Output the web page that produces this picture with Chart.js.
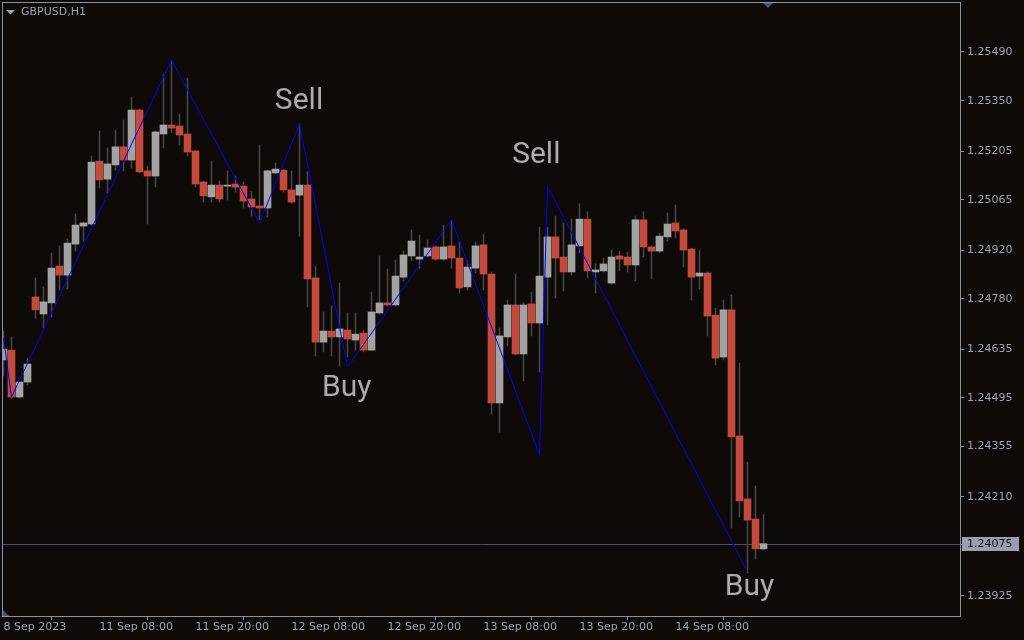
<!DOCTYPE html>
<html><head><meta charset="utf-8">
<script src="https://cdn.jsdelivr.net/npm/chart.js@4.4.0/dist/chart.umd.min.js"></script>
<style>html,body{margin:0;padding:0;background:#0d0a08;overflow:hidden}canvas{display:block}</style>
</head><body>
<canvas id="c" width="1024" height="640"></canvas>
<script>
const symbolTitle = 'GBPUSD,H1';
const openPrices = [1.24604,1.24632,1.24497,1.24540,1.24785,1.24736,1.24768,1.24874,1.24848,1.24937,1.24989,1.24995,1.25176,1.25124,1.25165,1.25217,1.25179,1.25323,1.25148,1.25133,1.25254,1.25280,1.25277,1.25254,1.25205,1.25116,1.25073,1.25107,1.25104,1.25110,1.25104,1.25067,1.25047,1.25041,1.25142,1.25150,1.25093,1.25078,1.25107,1.24840,1.24655,1.24687,1.24670,1.24690,1.24661,1.24681,1.24632,1.24739,1.24768,1.24762,1.24842,1.24903,1.24894,1.24903,1.24929,1.24894,1.24932,1.24897,1.24814,1.24868,1.24935,1.24851,1.24480,1.24670,1.24762,1.24621,1.24765,1.24710,1.24842,1.24958,1.24900,1.24857,1.24932,1.25009,1.24857,1.24860,1.24825,1.24903,1.24900,1.24877,1.25007,1.24929,1.24917,1.24958,1.24998,1.24978,1.24923,1.24845,1.24854,1.24733,1.24612,1.24748,1.24385,1.24204,1.24146,1.24060];
const highPrices = [1.24687,1.24670,1.24540,1.24609,1.24840,1.24814,1.24912,1.24932,1.24952,1.25024,1.25001,1.25191,1.25263,1.25214,1.25266,1.25294,1.25360,1.25326,1.25162,1.25263,1.25424,1.25467,1.25312,1.25415,1.25208,1.25119,1.25176,1.25119,1.25148,1.25133,1.25116,1.25090,1.25222,1.25150,1.25171,1.25153,1.25148,1.25283,1.25145,1.24874,1.24742,1.24759,1.24825,1.24739,1.24739,1.24690,1.24799,1.24903,1.24866,1.24891,1.24917,1.24978,1.24963,1.24949,1.24932,1.24992,1.25007,1.24943,1.24889,1.24943,1.24966,1.24857,1.24696,1.24776,1.24851,1.24768,1.24799,1.24986,1.24986,1.25018,1.24998,1.25009,1.25053,1.25030,1.24880,1.24897,1.24920,1.24917,1.24914,1.25018,1.25030,1.24932,1.24969,1.25027,1.25050,1.24981,1.24926,1.24920,1.24857,1.24753,1.24776,1.24791,1.24595,1.24310,1.24241,1.24160];
const lowPrices = [1.24558,1.24494,1.24494,1.24532,1.24724,1.24696,1.24727,1.24805,1.24808,1.24917,1.24946,1.24992,1.25099,1.25084,1.25150,1.25148,1.25156,1.25142,1.24995,1.25101,1.25214,1.25257,1.25222,1.25191,1.25101,1.25058,1.25058,1.25058,1.25064,1.25087,1.25041,1.25018,1.25007,1.25015,1.25139,1.25087,1.25055,1.24960,1.24756,1.24615,1.24627,1.24615,1.24586,1.24612,1.24632,1.24627,1.24630,1.24736,1.24759,1.24759,1.24831,1.24889,1.24868,1.24900,1.24891,1.24891,1.24868,1.24796,1.24805,1.24854,1.24805,1.24448,1.24396,1.24644,1.24618,1.24543,1.24673,1.24569,1.24704,1.24782,1.24802,1.24848,1.24912,1.24840,1.24796,1.24857,1.24822,1.24860,1.24857,1.24831,1.24900,1.24837,1.24912,1.24946,1.24955,1.24871,1.24776,1.24808,1.24673,1.24589,1.24604,1.24120,1.24152,1.23991,1.24031,1.24057];
const closePrices = [1.24635,1.24497,1.24540,1.24592,1.24748,1.24771,1.24868,1.24848,1.24940,1.24992,1.24998,1.25173,1.25122,1.25168,1.25217,1.25179,1.25323,1.25145,1.25133,1.25260,1.25280,1.25271,1.25251,1.25202,1.25110,1.25076,1.25107,1.25067,1.25107,1.25101,1.25061,1.25044,1.25041,1.25148,1.25153,1.25093,1.25058,1.25107,1.24837,1.24655,1.24687,1.24670,1.24693,1.24664,1.24678,1.24632,1.24742,1.24768,1.24762,1.24845,1.24906,1.24946,1.24900,1.24926,1.24894,1.24929,1.24897,1.24811,1.24871,1.24932,1.24851,1.24480,1.24673,1.24762,1.24621,1.24762,1.24710,1.24845,1.24958,1.24897,1.24857,1.24935,1.25009,1.24860,1.24863,1.24880,1.24900,1.24894,1.24877,1.25007,1.24929,1.24917,1.24960,1.24995,1.24975,1.24920,1.24842,1.24854,1.24730,1.24609,1.24748,1.24382,1.24198,1.24143,1.24060,1.24075];
const timeTickIndex = [0,12,24,36,48,60,72,84];
const timeTickLabels = ['8 Sep 2023','11 Sep 08:00','11 Sep 20:00','12 Sep 08:00','12 Sep 20:00','13 Sep 08:00','13 Sep 20:00','14 Sep 08:00'];
const priceTicks = [1.25490,1.25350,1.25205,1.25065,1.24920,1.24780,1.24635,1.24495,1.24355,1.24210,1.23925];
const zigzagIndex = [0,1,21,32,37,43,56,67,68,93];
const zigzagPrice = [1.24667,1.24497,1.25467,1.24998,1.25283,1.24583,1.25007,1.24330,1.25104,1.23994];
const signalText = ['Sell','Sell','Buy','Buy'];
const signalIndex = [36.94,66.6,42.9,93.25];
const signalPrice = [1.25326,1.25171,1.24500,1.23927];
const lastPrice = 1.24075;

const BG='#0d0a08', BULL='#a3a3a3', BEAR='#c44b3b', WICK='#454545', FRAME='#8c90a4', TXT='#9ea4b6', SIGNAL='#ababab', PRICE_LINE='#474c82';
const FONT='"DejaVu Sans", Tahoma, sans-serif';

const idx = openPrices.map((_, i) => i);
const bodies = idx.map(i => ({x: i, y: [openPrices[i], closePrices[i]]}));
const wicks = idx.map(i => ({x: i, y: [lowPrices[i], highPrices[i]]}));
const bodyColors = idx.map(i => closePrices[i] >= openPrices[i] ? BULL : BEAR);
const zigzag = zigzagIndex.map((v, k) => ({x: v, y: zigzagPrice[k]}));

const zeroPad = s => { s.paddingTop = 0; s.paddingBottom = 0; s.paddingLeft = 0; s.paddingRight = 0; };

const overlay = {
  id: 'overlay',
  beforeDraw(chart) {
    const c = chart.ctx;
    c.save(); c.fillStyle = BG; c.fillRect(0, 0, chart.width, chart.height); c.restore();
  },
  beforeDatasetsDraw(chart) {
    const c = chart.ctx, a = chart.chartArea, y = chart.scales.y;
    const py = Math.round(y.getPixelForValue(lastPrice)) + 0.5;
    c.save(); c.strokeStyle = PRICE_LINE; c.lineWidth = 1;
    c.beginPath(); c.moveTo(a.left, py); c.lineTo(a.right, py); c.stroke(); c.restore();
  },
  afterDatasetsDraw(chart) {
    const c = chart.ctx, x = chart.scales.x, y = chart.scales.y;
    c.save();
    c.font = '30px Roboto';
    c.fillStyle = SIGNAL; c.textAlign = 'center'; c.textBaseline = 'alphabetic';
    signalText.forEach((t, k) => c.fillText(t, x.getPixelForValue(signalIndex[k]), y.getPixelForValue(signalPrice[k])));
    c.restore();
  },
  afterDraw(chart) {
    const c = chart.ctx, a = chart.chartArea, y = chart.scales.y;
    c.save();
    c.strokeStyle = FRAME; c.lineWidth = 1;
    c.strokeRect(2.5, 2.5, a.right - 2, a.bottom - 2);
    c.fillStyle = TXT;
    c.beginPath(); c.moveTo(6, 10); c.lineTo(15, 10); c.lineTo(10.5, 14.5); c.closePath(); c.fill();
    c.font = '11px ' + FONT; c.textAlign = 'left'; c.textBaseline = 'middle';
    c.fillText(symbolTitle, 21, 12);
    c.fillStyle = '#4b5080';
    c.beginPath(); c.moveTo(763, 3); c.lineTo(773, 3); c.lineTo(768, 8); c.closePath(); c.fill();
    c.beginPath(); c.moveTo(3, 610); c.lineTo(3, 616); c.lineTo(9, 616); c.closePath(); c.fill();
    const py = Math.round(y.getPixelForValue(lastPrice));
    c.strokeStyle = FRAME;
    c.beginPath(); c.moveTo(a.right, py + 0.5); c.lineTo(a.right + 4, py + 0.5); c.stroke();
    c.fillStyle = '#9a9eae'; c.fillRect(962, py - 7, 57, 14);
    c.fillStyle = BG; c.font = '11px ' + FONT; c.textBaseline = 'middle';
    c.fillText(lastPrice.toFixed(5), 967, py + 0.5);
    c.restore();
  }
};

new Chart(document.getElementById('c'), {
  type: 'bar',
  data: { datasets: [
    { type: 'line', data: zigzag, borderColor: '#0000ff', borderWidth: 1, pointRadius: 0, tension: 0, fill: false, order: 0 },
    { data: bodies, backgroundColor: bodyColors, barThickness: 7, grouped: false, minBarLength: 1, borderWidth: 0, order: 1 },
    { data: wicks, backgroundColor: WICK, barThickness: 1, grouped: false, borderWidth: 0, order: 2 }
  ]},
  options: {
    responsive: false, animation: false, devicePixelRatio: 1,
    layout: { padding: { left: 3, top: 3, right: 0, bottom: 0 }, autoPadding: false },
    plugins: { legend: { display: false }, tooltip: { enabled: false }, title: { display: false } },
    scales: {
      x: {
        type: 'linear', min: -0.0625, max: 119.5625, offset: false, position: 'bottom',
        afterBuildTicks: s => { s.ticks = timeTickIndex.map(v => ({ value: v })); },
        afterFit: s => { s.height = 24; zeroPad(s); },
        ticks: { autoSkip: false, maxRotation: 0, minRotation: 0, align: 'start', padding: 1, color: TXT,
                 font: { family: FONT, size: 11 },
                 callback: v => timeTickLabels[timeTickIndex.indexOf(v)] },
        grid: { drawOnChartArea: false, drawTicks: true, tickLength: 4, color: FRAME },
        border: { display: false }
      },
      y: {
        type: 'linear', position: 'right', min: 1.238669, max: 1.256310,
        afterBuildTicks: s => { s.ticks = priceTicks.map(v => ({ value: v })); },
        afterFit: s => { s.width = 64; zeroPad(s); },
        ticks: { padding: 3, color: TXT, font: { family: FONT, size: 11 }, callback: v => Number(v).toFixed(5) },
        grid: { drawOnChartArea: false, drawTicks: true, tickLength: 4, color: FRAME },
        border: { display: false }
      }
    }
  },
  plugins: [overlay]
});
</script>
</body></html>
